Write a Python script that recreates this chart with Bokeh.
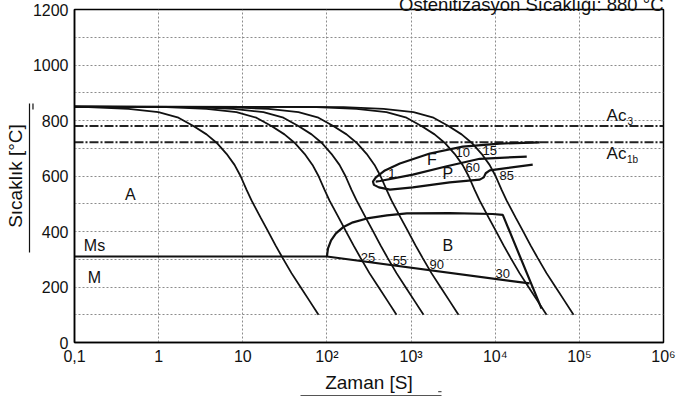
from bokeh.plotting import figure
from bokeh.models import FixedTicker, Arrow, NormalHead, LinearAxis, LogAxis
from bokeh.core.properties import value
from bokeh.embed import file_html
from bokeh.resources import INLINE

FONT = "Liberation Sans"

# ---------------- data ----------------
x_ticks = [0.1, 1, 10, 100, 1000, 10000, 100000, 1000000]
x_tick_labels = ["0,1", "1", "10", "10²", "10³", "10⁴", "10⁵", "10⁶"]
y_ticks = [0, 200, 400, 600, 800, 1000, 1200]
y_grid = [0, 100, 200, 300, 400, 500, 600, 700, 800, 900, 1000, 1100, 1200]

# cooling curves (time s, temperature C)
curve_T = [850, 849, 848, 842, 830, 810, 780, 750, 720, 680, 640, 600, 550, 512,
           450, 404, 350, 306, 250, 200, 150, 100]
c1_T = [850, 848, 842, 830, 810, 780, 750, 720, 680, 640, 600, 550, 512,
        450, 404, 350, 306, 250, 200, 150, 100]
c1_t = [0.1, 0.147, 0.439, 0.995, 1.72, 2.59, 3.71, 4.88, 6.41, 7.98, 9.40, 11.1, 12.7,
        16.3, 19.7, 24.5, 29.6, 37.9, 48.5, 62.1, 79.4]
c2_t = [0.1, 0.315, 1.24, 3.71, 8.41, 14.5, 21.9, 31.3, 41.2, 54.2, 67.4, 79.4, 93.8, 107,
        138, 166, 207, 250, 320, 410, 525, 671]
c3_t = [0.1, 0.66, 2.60, 7.77, 17.6, 30.4, 45.8, 65.7, 86.4, 113, 141, 166, 196, 225,
        289, 349, 434, 524, 671, 858, 1099, 1406]
c4_t = [0.1, 1.72, 6.78, 20.2, 45.9, 79.3, 119, 171, 225, 296, 368, 433, 512, 585,
        751, 908, 1129, 1365, 1747, 2236, 2863, 3660]
c5_t = [0.1, 19.1, 75.4, 225, 510, 882, 1328, 1903, 2503, 3288, 4093, 4821, 5693, 6514,
        8360, 10100, 12570, 15180, 19440, 24880, 31850, 40720]
c6_t = [0.1, 40.1, 158, 471, 1069, 1847, 2782, 3985, 5241, 6884, 8571, 10100, 11920, 13640,
        17510, 21160, 26310, 31790, 40700, 52090, 66700, 85280]

# Ms line
ms_t = [0.1, 100, 25600]
ms_T = [310, 310, 213]

# bainite region boundary
b_t = [100, 103, 112, 128, 155, 204, 299, 516, 891, 2880, 9330, 12300, 35500]
b_T = [310, 339, 368, 393, 415, 433, 447, 458, 465, 466, 463, 460, 122]

# ferrite / pearlite curves
f_outer_t = [33700, 11300, 4110, 1670, 736, 489, 382, 352, 362, 415, 561, 1050, 2880, 6550,
             7310, 7710, 8610, 27900]
f_outer_T = [721, 717, 706, 681, 645, 620, 595, 580, 568, 559, 551, 559, 577, 587,
             595, 610, 620, 641]
p_start_t = [380, 427, 1050, 2660, 6550, 23700]
p_start_T = [580, 582, 605, 635, 662, 670]

ac3_T = 780
ac1b_T = 722

# labels
region_text = ["A", "Ms", "M", "B", "F", "P"]
region_t = [0.46, 0.173, 0.173, 2735, 1766, 2735]
region_T = [533, 350, 234, 350, 659, 609]

num_text = ["25", "55", "90", "30", "1", "10", "15", "60", "85"]
num_t = [307, 736, 2024, 12270, 592, 4110, 8610, 5410, 13680]
num_T = [306, 295, 281, 249, 609, 685, 692, 631, 602]

ac_text = ["Ac", "Ac"]
ac_t = [276000, 276000]
ac_T = [818, 681]
acsub_text = ["3", "1b"]
acsub_t = [404000, 428000]
acsub_T = [800, 659]

title_text = "Östenitizasyon Sıcaklığı: 880 °C"
x_title = "Zaman [S]"
y_title = "Sıcaklık [°C]"

# ---------------- figure ----------------
p = figure(width=676, height=409, x_axis_type="log", x_range=(0.1, 1e6), y_range=(0, 1200),
           min_border_left=74, min_border_right=13, min_border_top=9, min_border_bottom=67,
           output_backend="svg", toolbar_location=None)
p.background_fill_color = "white"
p.outline_line_color = "black"
p.outline_line_width = 1.5

p.title.text = title_text
p.title.align = "right"
p.title.vertical_align = "top"
p.title.text_font = FONT
p.title.text_font_size = "18.5px"
p.title.text_font_style = "normal"
p.title.text_color = "#111111"
p.title.standoff = -14

for ax in (p.xaxis, p.yaxis):
    ax.axis_line_color = "black"
    ax.axis_line_width = 1.5
    ax.major_tick_in = 0
    ax.major_tick_out = 0
    ax.minor_tick_line_color = None
    ax.major_label_text_font = FONT
    ax.major_label_text_font_size = "16px"
    ax.major_label_text_color = "#111111"
    ax.axis_label_text_font = FONT
    ax.axis_label_text_font_size = "19px"
    ax.axis_label_text_font_style = "normal"
    ax.axis_label_text_color = "#111111"
p.xaxis.ticker = FixedTicker(ticks=x_ticks)
p.xaxis.major_label_overrides = {k: v for k, v in zip(x_ticks, x_tick_labels)}
p.xaxis.major_label_standoff = 5
p.xaxis.axis_label = x_title
p.xaxis.axis_label_standoff = 4
p.yaxis.ticker = FixedTicker(ticks=y_ticks)
p.yaxis.major_label_standoff = 6

# arrow shafts drawn as bounded extra axes
x_arrow = LogAxis(bounds=(48.5, 2301), ticker=FixedTicker(ticks=[]), axis_line_color="#555555",
                  axis_line_width=1.2, major_tick_in=0, major_tick_out=0, major_label_standoff=0,
                  minor_tick_line_color=None)
p.add_layout(x_arrow, "below")
y_arrow = LinearAxis(bounds=(324, 861), ticker=FixedTicker(ticks=[]), axis_line_color="#111111",
                     axis_line_width=1.2, major_tick_in=0, major_tick_out=0, major_label_standoff=0,
                     minor_tick_line_color=None, axis_label=y_title, axis_label_standoff=4,
                     axis_label_text_font=FONT, axis_label_text_font_size="19px",
                     axis_label_text_font_style="normal", axis_label_text_color="#111111")
p.add_layout(y_arrow, "left")

p.add_layout(Arrow(end=NormalHead(size=7, fill_color="#555555", line_color="#555555"),
                   x_start=2100, y_start=-177, x_end=2301, y_end=-177,
                   line_color="#555555", line_width=1.2))
p.add_layout(Arrow(end=NormalHead(size=7, fill_color="#111111", line_color="#111111"),
                   x_start=0.0321, y_start=840, x_end=0.0321, y_end=861,
                   line_color="#111111", line_width=1.2))

p.xgrid.ticker = FixedTicker(ticks=x_ticks)
p.ygrid.ticker = FixedTicker(ticks=y_grid)
for g in (p.xgrid, p.ygrid):
    g.grid_line_color = "#8c8c8c"
    g.grid_line_dash = "2 2"
    g.grid_line_width = 1

# Ac lines
p.line([0.1, 1e6], [ac3_T, ac3_T], line_color="#222222", line_width=2, line_dash="9 2 2 2")
p.line([0.1, 1e6], [ac1b_T, ac1b_T], line_color="#222222", line_width=2, line_dash="9 2 2 2")

# cooling curves
p.line(c1_t, c1_T, line_color="#111111", line_width=1.8)
for tt in (c2_t, c3_t, c4_t, c5_t, c6_t):
    p.line(tt, curve_T, line_color="#111111", line_width=1.8)

p.line(ms_t, ms_T, line_color="#111111", line_width=2.2)
p.line(b_t, b_T, line_color="#111111", line_width=2.2)
p.line(f_outer_t, f_outer_T, line_color="#111111", line_width=2.2)
p.line(p_start_t, p_start_T, line_color="#111111", line_width=2.2)

# in-frame texts
p.text(x=region_t, y=region_T, text=region_text, text_font=value(FONT), text_font_size="16px",
       text_align="center", text_baseline="middle", text_color="#111111")
p.text(x=num_t, y=num_T, text=num_text, text_font=value(FONT), text_font_size="13px",
       text_align="center", text_baseline="middle", text_color="#111111")
p.text(x=ac_t, y=ac_T, text=ac_text, text_font=value(FONT), text_font_size="17px",
       text_align="center", text_baseline="middle", text_color="#111111")
p.text(x=acsub_t, y=acsub_T, text=acsub_text, text_font=value(FONT), text_font_size="10px",
       text_align="center", text_baseline="middle", text_color="#111111")

open("out.html", "w").write(file_html(p, INLINE))
